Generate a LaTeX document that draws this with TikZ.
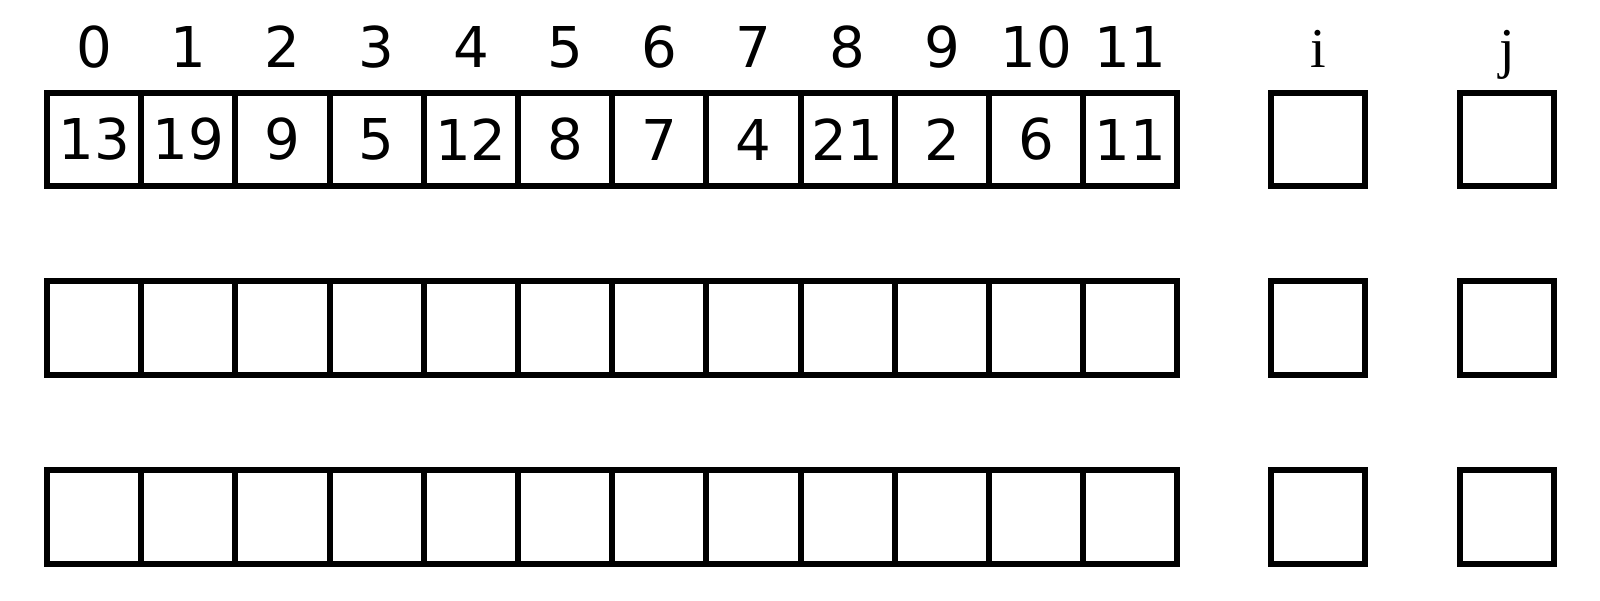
\documentclass[tikz,border=0pt]{standalone}
\usepackage{fontspec}
\setmainfont{DejaVu Sans}
\newfontfamily\varfont{Liberation Serif}
\usetikzlibrary{positioning}

\begin{document}
\begin{tikzpicture}[
        every node/.style={font=\fontsize{16}{19}\selectfont},
        cell/.style={
            rectangle,
            draw,
            line width=1.7pt,
            minimum width=0.942cm,
            minimum height=0.935cm,
            inner sep=0pt,
            outer sep=0pt
        },
        index/.style={
            anchor=base,
            inner sep=0pt
        },
        varname/.style={
            anchor=base,
            inner sep=0pt,
            font=\fontsize{16}{19}\selectfont\varfont
        }
    ]

    \useasboundingbox (0,0) rectangle (16,-6);

    % Array rows with indices
    \foreach \v [count=\k from 0] in {13,19,9,5,12,8,7,4,21,2,6,11} {
        \node[cell] (a\k) at ({0.941+0.942*\k},-1.395) {\v};
        \node[cell] (b\k) at ({0.941+0.942*\k},-3.28) {};
        \node[cell] (c\k) at ({0.941+0.942*\k},-5.17) {};
        \node[index] (n\k) at ({0.941+0.942*\k},-0.67) {\k};
    }

    % Variable i
    \node[cell] (i1) at (13.18,-1.395) {};
    \node[cell] (i2) at (13.18,-3.28) {};
    \node[cell] (i3) at (13.18,-5.17) {};
    \node[varname] (ilabel) at (13.18,-0.67) {i};

    % Variable j
    \node[cell] (j1) at (15.07,-1.395) {};
    \node[cell] (j2) at (15.07,-3.28) {};
    \node[cell] (j3) at (15.07,-5.17) {};
    \node[varname] (jlabel) at (15.07,-0.67) {j};

\end{tikzpicture}
\end{document}
